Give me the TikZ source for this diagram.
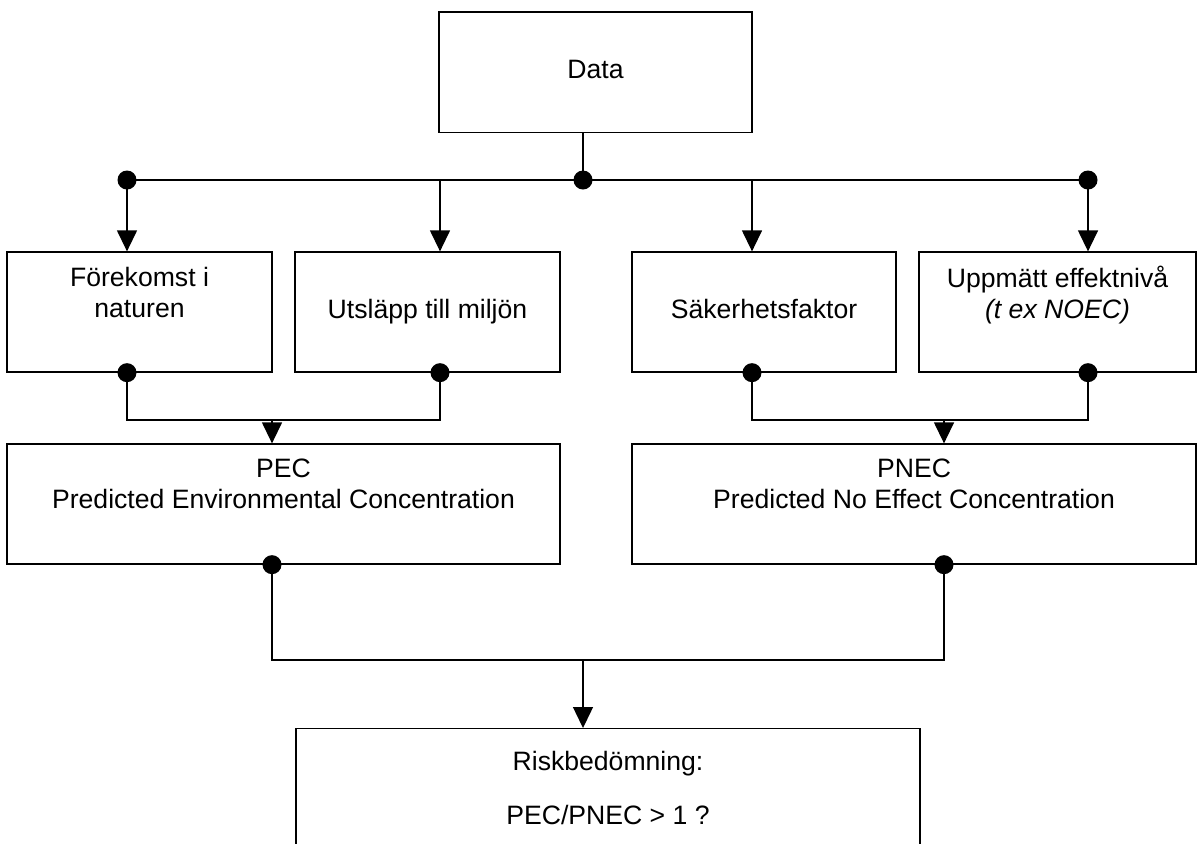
\documentclass[tikz,border=0pt]{standalone}
\usepackage{fontspec}
\setmainfont{Liberation Sans}
\usetikzlibrary{arrows.meta,calc}

\begin{document}
\begin{tikzpicture}[x=0.5pt,y=-0.5pt,line width=0.65pt,
  font=\fontsize{13.3}{15.5}\selectfont,
  box/.style={draw,align=center,inner sep=0pt,minimum height=60pt,
    execute at begin node=\strut,execute at end node=\strut},
  dot/.style={circle,fill,inner sep=0pt,minimum size=9.5pt},
  arr/.style={-{Triangle[width=10pt,length=10.5pt]}}]
\clip (0,0) rectangle (1202,843);

\node[box,minimum width=156.5pt,minimum height=60.3pt] (data) at (595.5,72.3) {Data};
\node[box,minimum width=132.5pt] (fore) at (139.5,312) {Förekomst i\\naturen\\};
\node[box,minimum width=132.5pt] (utsl) at (427.5,312) {Utsläpp till miljön};
\node[box,minimum width=132pt] (saker) at (764,312) {Säkerhetsfaktor};
\node[box,minimum width=138.5pt] (uppm) at (1057.5,312) {Uppmätt effektnivå\\\textit{(t ex NOEC)}\\};
\node[box,minimum width=276.5pt] (pec) at (283.5,504) {PEC\\Predicted Environmental Concentration\\};
\node[box,minimum width=282pt] (pnec) at (914,504) {PNEC\\Predicted No Effect Concentration\\};
\node[box,anchor=north,minimum width=312pt,minimum height=0pt,inner ysep=11.4pt] (risk) at (608,728)
  {Riskbedömning:\\[11.5pt]PEC/PNEC > 1 ?};

\node[dot] (t1) at (127,180) {};
\node[dot] (t0) at (583,180) {};
\node[dot] (t4) at (1088,180) {};
\coordinate (t2) at (440,180);
\coordinate (t3) at (752,180);
\draw (t1.center) -- (t4.center);
\draw (t0.center) -- (t0 |- data.south);
\draw[arr] (t1.center) -- (t1 |- fore.north);
\draw[arr] (t2) -- (t2 |- utsl.north);
\draw[arr] (t3) -- (t3 |- saker.north);
\draw[arr] (t4.center) -- (t4 |- uppm.north);

\node[dot] (b1) at (fore.south -| t1) {};
\node[dot] (b2) at (utsl.south -| t2) {};
\node[dot] (b3) at (saker.south -| t3) {};
\node[dot] (b4) at (uppm.south -| t4) {};
\coordinate (m1) at (272,420);
\coordinate (m2) at (944,420);
\draw (b1.center) -- (b1 |- m1) -- (b2 |- m1) -- (b2.center);
\draw (b3.center) -- (b3 |- m2) -- (b4 |- m2) -- (b4.center);
\draw[arr] (m1) -- (m1 |- pec.north);
\draw[arr] (m2) -- (m2 |- pnec.north);

\node[dot] (p1) at (pec.south -| m1) {};
\node[dot] (p2) at (pnec.south -| m2) {};
\coordinate (l0) at (583,660);
\draw (p1.center) -- (p1 |- l0) -- (p2 |- l0) -- (p2.center);
\draw[arr] (l0) -- (risk.north -| l0);
\end{tikzpicture}
\end{document}
